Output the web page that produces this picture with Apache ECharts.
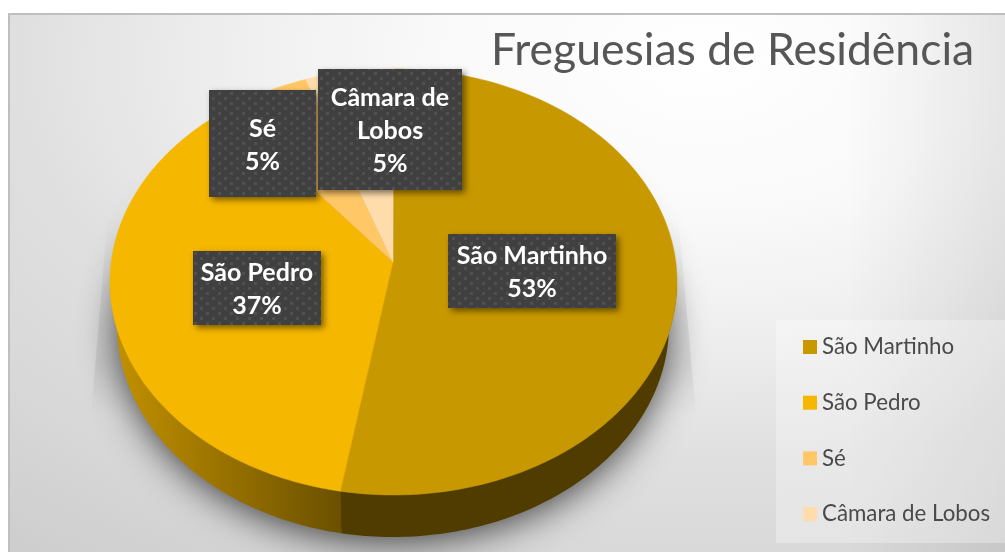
<!DOCTYPE html>
<html>
<head>
<meta charset="utf-8">
<title>Freguesias de Residência</title>
<script src="https://cdn.jsdelivr.net/npm/echarts@6/dist/echarts.min.js"></script>
<style>
  html, body { margin: 0; padding: 0; background: #fff; overflow: hidden; }
  #panel {
    position: absolute; left: 8px; top: 13px; width: 997px; height: 539px;
    border-left: 2px solid #bfbfbf; border-top: 2px solid #bfbfbf; box-sizing: border-box;
    background:
      linear-gradient(90deg, rgba(0,0,0,0) 84%, rgba(0,0,0,.07) 100%),
      radial-gradient(ellipse 900px 520px at 692px 46px, #fff 0%, #f9f9f9 30%, #f0f0f0 50%, #dfdfdf 77%, #d9d9d9 95%, #cecece 120%);
  }
  #chart { position: absolute; left: 0; top: 0; width: 1005px; height: 552px; }
</style>
</head>
<body>
<div id="panel"></div>
<div id="chart"></div>
<script>
const categories = ["São Martinho", "São Pedro", "Sé", "Câmara de Lobos"];
const values = [53, 37, 5, 5];
const titleText = "Freguesias de Residência";

const colors = ["#c89800", "#f5b700", "#ffc766", "#ffdcab"];
// parede lateral: cor à esquerda e à direita de cada fatia
const wallColors = [["#513c00", "#513c00"], ["#c49200", "#6b5000"], ["#000", "#000"], ["#000", "#000"]];
// caixas das etiquetas: x, y, largura, altura
const labelBoxes = [[448, 234, 168, 74], [193, 251, 128, 74], [209, 90, 107, 107], [318, 69, 144, 121]];
const labelLines = [["São Martinho"], ["São Pedro"], ["Sé"], ["Câmara de", "Lobos"]];

// geometria da elipse
const top3d = { cx: 393.5, cy: 282, rx: 283.5, ry: 213 };
const bottom3d = { cx: 393, cy: 325, rx: 276, ry: 212 };
const apex = [393, 262];

const total = values.reduce((a, b) => a + b, 0);

function pt(e, f) {
  return [e.cx + e.rx * Math.sin(2 * Math.PI * f), e.cy - e.ry * Math.cos(2 * Math.PI * f)];
}
function arc(e, f0, f1) {
  const n = Math.max(2, Math.ceil((f1 - f0) * 360));
  const out = [];
  for (let i = 0; i <= n; i++) out.push(pt(e, f0 + (f1 - f0) * i / n));
  return out;
}

// padrão de pontos das etiquetas
const dots = document.createElement("canvas");
dots.width = 12; dots.height = 10;
const dc = dots.getContext("2d");
dc.fillStyle = "#404040"; dc.fillRect(0, 0, 12, 10);
dc.fillStyle = "#505050";
dc.fillRect(2, 2, 3, 3); dc.fillRect(8, 7, 3, 3);

function renderSlice(i) {
  return function (params, api) {
    const v = api.value(0);
    let start = 0;
    for (let k = 0; k < i; k++) start += values[k];
    const f0 = start / total;
    const f1 = (start + v) / total;
    const children = [];

    // parede
    const lo = Math.max(f0, 0.25), hi = Math.min(f1, 0.75);
    if (lo < hi) {
      const pts = arc(top3d, lo, hi).concat(arc(bottom3d, lo, hi).reverse());
      const xs = pts.map(p => p[0]);
      children.push({
        type: "polygon", z2: 1, silent: true,
        shape: { points: pts },
        style: {
          fill: new echarts.graphic.LinearGradient(Math.min.apply(null, xs), 0, Math.max.apply(null, xs), 0, [
            { offset: 0, color: wallColors[i][0] },
            { offset: 1, color: wallColors[i][1] }
          ], true)
        }
      });
    }

    // topo
    children.push({
      type: "polygon", z2: 2, silent: true,
      shape: { points: [apex].concat(arc(top3d, f0, f1)) },
      style: { fill: colors[i], stroke: colors[i], lineWidth: 0.5 }
    });

    // etiqueta
    const b = labelBoxes[i];
    children.push({
      type: "rect", z2: 3, silent: true,
      shape: { x: b[0], y: b[1], width: b[2], height: b[3] },
      style: {
        fill: { image: dots, repeat: "repeat" },
        shadowBlur: 6, shadowOffsetX: 3, shadowOffsetY: 3, shadowColor: "rgba(0,0,0,0.5)"
      }
    });
    children.push({
      type: "text", z2: 4, silent: true,
      style: {
        x: b[0] + b[2] / 2, y: b[1] + b[3] / 2 + 1.5,
        text: labelLines[i].concat([Math.round(v / total * 100) + "%"]).join("\n"),
        align: "center", verticalAlign: "middle",
        fill: "#fff", fontFamily: "Lato", fontWeight: "bold", fontSize: 25, lineHeight: 33
      }
    });
    return { type: "group", children: children };
  };
}

function renderShadow() {
  const halo = arc({ cx: bottom3d.cx, cy: bottom3d.cy - 3, rx: bottom3d.rx - 3, ry: bottom3d.ry - 3 }, 0, 1);
  const wedge = (x0, x1, x2) => ({
    type: "polygon", z2: 0, silent: true,
    shape: { points: [[x0, 215], [x1, 415], [x2, 415], [x2, 215]] },
    style: {
      fill: new echarts.graphic.LinearGradient(0, 215, 0, 415, [
        { offset: 0, color: "rgba(0,0,0,0)" },
        { offset: 0.5, color: "rgba(0,0,0,0.07)" },
        { offset: 0.75, color: "rgba(0,0,0,0.07)" },
        { offset: 1, color: "rgba(0,0,0,0)" }
      ], true)
    }
  });
  return {
    type: "group",
    children: [
      wedge(108, 91, 200), wedge(678, 696, 590),
      {
        type: "polygon", z2: 0, silent: true,
        shape: { points: halo },
        style: { fill: "#555", shadowBlur: 38, shadowColor: "rgba(0,0,0,0.75)", shadowOffsetY: 10 }
      }
    ]
  };
}

const myChart = echarts.init(document.getElementById("chart"), null, { renderer: "canvas" });
const series = [{
  type: "custom", name: "sombra", coordinateSystem: "none", silent: true,
  data: [[0]], renderItem: renderShadow
}];
categories.forEach((name, i) => {
  series.push({
    type: "custom", name: name, coordinateSystem: "none", silent: true,
    itemStyle: { color: colors[i] },
    data: [[values[i]]],
    renderItem: renderSlice(i)
  });
});

myChart.setOption({
  animation: false,
  backgroundColor: "transparent",
  title: {
    text: titleText, left: 486, top: 23,
    textStyle: { fontFamily: "Lato", fontWeight: "normal", fontSize: 44.5, color: "#565656" }
  },
  legend: {
    data: categories, orient: "vertical", left: 776, top: 320,
    padding: [16, 17, 18, 27],
    backgroundColor: "rgba(255,255,255,0.3)",
    icon: "rect", itemWidth: 14, itemHeight: 14, itemGap: 33.7,
    selectedMode: false,
    textStyle: { fontFamily: "Lato", fontSize: 22.3, color: "#4a4a4a" }
  },
  series: series
});
</script>
</body>
</html>
